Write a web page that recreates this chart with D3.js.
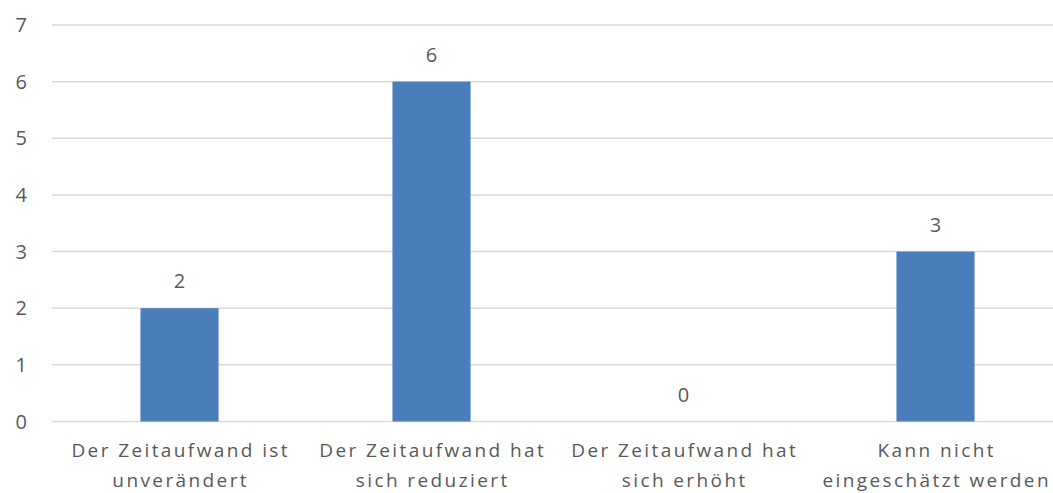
<!DOCTYPE html>
<html><head><meta charset="utf-8">
<script src="https://cdn.jsdelivr.net/npm/d3@7"></script>
<style>
html,body{margin:0;padding:0;background:#fff;overflow:hidden}
text{font-family:"Open Sans",sans-serif;fill:#595959}
</style></head>
<body><svg id="c" width="1053" height="493"></svg>
<script>
const categories = [
  ["Der Zeitaufwand ist", "unverändert"],
  ["Der Zeitaufwand hat", "sich reduziert"],
  ["Der Zeitaufwand hat", "sich erhöht"],
  ["Kann nicht", "eingeschätzt werden"]
];
const values = [2, 6, 0, 3];
const yTicks = [0, 1, 2, 3, 4, 5, 6, 7];

(function () {
const svg = d3.select("#c");
const pl = 53.5, pr = 1061.5, pt = 25, pb = 421.5;

const x = d3.scaleBand().domain(d3.range(categories.length)).range([pl, pr])
  .paddingInner(0.69).paddingOuter(0.345);
const y = d3.scaleLinear().domain([0, 7]).range([pb, pt]);

svg.append("g").selectAll("line").data(yTicks).join("line")
  .attr("x1", 52).attr("x2", pr)
  .attr("y1", d => y(d)).attr("y2", d => y(d))
  .attr("stroke", "#d9d9d9").attr("stroke-width", 1.5);

svg.append("g").selectAll("text").data(yTicks).join("text")
  .attr("x", 27).attr("y", d => y(d)).attr("dy", "0.35em")
  .attr("text-anchor", "end").style("font-size", "20px").text(d => d);

svg.append("g").selectAll("rect").data(values).join("rect")
  .attr("x", (d, i) => x(i)).attr("width", x.bandwidth())
  .attr("y", d => y(d)).attr("height", d => pb - y(d))
  .attr("fill", "#4a7ebb");

svg.append("g").selectAll("text").data(values).join("text")
  .attr("x", (d, i) => x(i) + x.bandwidth() / 2).attr("y", d => y(d) - 20)
  .attr("text-anchor", "middle").style("font-size", "20px").text(d => d);

const cg = svg.append("g").selectAll("text").data(categories).join("text")
  .attr("x", (d, i) => x(i) + x.bandwidth() / 2 + 1.2)
  .attr("y", 457).attr("text-anchor", "middle")
  .style("font-size", "19px").style("letter-spacing", "2.4px");
cg.selectAll("tspan").data(d => d).join("tspan")
  .attr("x", function () { return d3.select(this.parentNode).attr("x"); })
  .attr("dy", (d, j) => j === 0 ? 0 : 30).text(d => d);
})();
</script></body></html>
